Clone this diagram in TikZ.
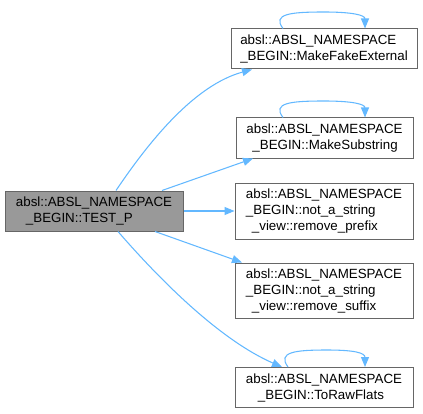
\documentclass[tikz,border=0pt]{standalone}
\usepackage{fontspec}
\setmainfont{Liberation Sans}
\usetikzlibrary{arrows.meta}
\definecolor{edgeblue}{HTML}{63B8FF}
\definecolor{boxborder}{HTML}{666666}
\definecolor{mainfill}{HTML}{999999}
\begin{document}
\begin{tikzpicture}[x=0.75pt,y=-0.75pt,
  fn/.style={draw=boxborder, line width=0.75pt, fill=white, inner sep=0pt,
    align=left, font=\fontsize{10pt}{12pt}\selectfont, text=black},
  mainfn/.style={fn, fill=mainfill},
  call/.style={draw=edgeblue, line width=0.8pt,
    -{Triangle[length=7.5pt,width=6pt]}, fill=none}]
\useasboundingbox (0,0) rectangle (423,413);

\node[mainfn, minimum width=133.5pt, minimum height=30pt] (main) at (94,211)
  {absl::ABSL\_NAMESPACE\\\hspace*{7.5pt}\_BEGIN::TEST\_P};
\node[fn, minimum width=139.5pt, minimum height=30pt] (mfe) at (324,49)
  {absl::ABSL\_NAMESPACE\\\_BEGIN::MakeFakeExternal};
\node[fn, minimum width=132.75pt, minimum height=30pt] (ms) at (324.5,138)
  {absl::ABSL\_NAMESPACE\\\hspace*{4.5pt}\_BEGIN::MakeSubstring};
\node[fn, minimum width=133.5pt, minimum height=42pt] (rp) at (324,211)
  {absl::ABSL\_NAMESPACE\\\_BEGIN::not\_a\_string\\\hspace*{4.5pt}\_view::remove\_prefix};
\node[fn, minimum width=133.5pt, minimum height=41.25pt] (rs) at (324,290.5)
  {absl::ABSL\_NAMESPACE\\\_BEGIN::not\_a\_string\\\hspace*{4.5pt}\_view::remove\_suffix};
\node[fn, minimum width=133.5pt, minimum height=30pt] (trf) at (324,387.5)
  {absl::ABSL\_NAMESPACE\\\hspace*{9pt}\_BEGIN::ToRawFlats};

% calls from TEST_P
\draw[call] (main.north -| 116,0) .. controls (150,140) and (195,85) .. (mfe.south -| 252,0);
\draw[call] (main.north -| 162,0) -- (ms.south -| 253,0);
\draw[call] (main.east) -- (rp.west);
\draw[call] (main.south -| 155,0) -- (rs.north -| 242,0);
\draw[call] (main.south -| 118,0) .. controls (160,280) and (220,340) .. (trf.north -| 282,0);

% self calls
\draw[call] (mfe.north -| 283,0) .. controls (272,14) and (290,12) .. (324,12)
  .. controls (352,12) and (365,15) .. (mfe.north -| 365,0);
\draw[call] (ms.north -| 283,0) .. controls (272,103) and (290,101) .. (324,101)
  .. controls (352,101) and (365,104) .. (ms.north -| 365,0);
\draw[call] (trf.north -| 288,0) .. controls (277,352) and (295,350) .. (327,350)
  .. controls (355,350) and (365,353) .. (trf.north -| 365,0);
\end{tikzpicture}
\end{document}
